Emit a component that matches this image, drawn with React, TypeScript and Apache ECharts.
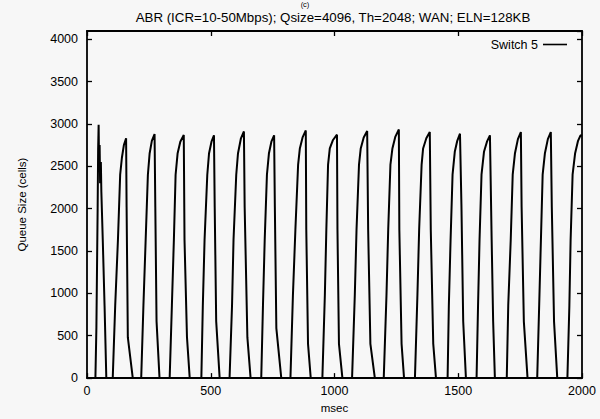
import React, { useEffect, useRef } from "react";
import * as echarts from "echarts";

// Time axis ticks (msec) and queue axis ticks (cells)
const xTicks = [0, 500, 1000, 1500, 2000];
const yTicks = [0, 500, 1000, 1500, 2000, 2500, 3000, 3500, 4000];

// Switch 5 queue size trace as [msec, cells]
const start: [number, number][] = [[0, 0]];
const cycle01: [number, number][] = [[34, 0], [38, 600], [41, 1450], [43, 2000], [45, 2700], [47, 2990], [49, 2450], [51, 2750], [53, 2300], [56, 2550], [58, 2200], [64, 1600], [71, 850], [78, 0]];
const cycle02: [number, number][] = [[104, 0], [114, 860], [125, 1630], [134, 2400], [141, 2600], [149, 2750], [158, 2830], [160, 2020], [165, 480], [185, 0]];
const cycle03: [number, number][] = [[219, 0], [228, 860], [237, 1630], [246, 2400], [253, 2650], [262, 2800], [273, 2880], [276, 2020], [281, 670], [293, 0]];
const cycle04: [number, number][] = [[334, 0], [343, 860], [351, 1630], [358, 2400], [366, 2650], [377, 2790], [391, 2870], [394, 1630], [404, 480], [415, 0]];
const cycle05: [number, number][] = [[462, 0], [468, 860], [475, 1630], [486, 2400], [493, 2650], [503, 2790], [513, 2865], [516, 2020], [522, 670], [536, 0]];
const cycle06: [number, number][] = [[576, 0], [586, 860], [592, 1630], [603, 2400], [610, 2650], [622, 2830], [634, 2910], [637, 2020], [648, 480], [661, 0]];
const cycle07: [number, number][] = [[704, 0], [711, 860], [718, 1630], [727, 2400], [735, 2650], [745, 2790], [756, 2865], [759, 2020], [765, 590], [785, 0]];
const cycle08: [number, number][] = [[822, 0], [832, 977], [842, 1750], [853, 2520], [860, 2710], [871, 2840], [884, 2923], [886, 1750], [893, 404], [904, 0]];
const cycle09: [number, number][] = [[951, 0], [961, 977], [967, 1750], [974, 2520], [981, 2710], [994, 2810], [1010, 2873], [1012, 1750], [1018, 404], [1032, 0]];
const cycle10: [number, number][] = [[1071, 0], [1082, 977], [1089, 1750], [1099, 2520], [1106, 2710], [1118, 2840], [1132, 2915], [1136, 1750], [1145, 404], [1163, 0]];
const cycle11: [number, number][] = [[1199, 0], [1210, 977], [1217, 1750], [1226, 2520], [1234, 2710], [1246, 2850], [1260, 2934], [1262, 1750], [1271, 404], [1281, 0]];
const cycle12: [number, number][] = [[1325, 0], [1335, 977], [1342, 1750], [1352, 2520], [1358, 2710], [1371, 2830], [1385, 2904], [1389, 1750], [1399, 404], [1410, 0]];
const cycle13: [number, number][] = [[1457, 0], [1462, 860], [1469, 1630], [1477, 2400], [1486, 2670], [1496, 2800], [1507, 2884], [1513, 2020], [1520, 670], [1531, 0]];
const cycle14: [number, number][] = [[1574, 0], [1580, 860], [1586, 1630], [1594, 2400], [1604, 2670], [1616, 2790], [1628, 2865], [1635, 1630], [1641, 670], [1648, 0]];
const cycle15: [number, number][] = [[1696, 0], [1702, 860], [1712, 1630], [1720, 2400], [1729, 2650], [1741, 2820], [1753, 2904], [1756, 2020], [1765, 670], [1780, 0]];
const cycle16: [number, number][] = [[1819, 0], [1827, 860], [1834, 1630], [1841, 2400], [1850, 2650], [1862, 2820], [1874, 2904], [1878, 2020], [1887, 670], [1900, 0]];
const cycle17: [number, number][] = [[1941, 0], [1949, 860], [1954, 1630], [1962, 2400], [1972, 2650], [1984, 2800], [1994, 2865], [2000, 2860]];

const seriesName = "Switch 5";
const titleText = "ABR (ICR=10-50Mbps); Qsize=4096, Th=2048; WAN; ELN=128KB";
const panelText = "(c)";
const xName = "msec";
const yName = "Queue Size (cells)";

const FONT = "'Liberation Sans', Arial, Helvetica, sans-serif";
const INK = "#000";

export default function App() {
  const ref = useRef<HTMLDivElement>(null);

  useEffect(() => {
    if (!ref.current) return;
    const chart = echarts.init(ref.current, undefined, { renderer: "svg" });
    const data = [
      ...start, ...cycle01, ...cycle02, ...cycle03, ...cycle04, ...cycle05, ...cycle06,
      ...cycle07, ...cycle08, ...cycle09, ...cycle10, ...cycle11, ...cycle12,
      ...cycle13, ...cycle14, ...cycle15, ...cycle16, ...cycle17,
    ];
    const xMin = xTicks[0];
    const xMax = xTicks[xTicks.length - 1];
    const xStep = xTicks[1] - xTicks[0];
    const yStep = yTicks[1] - yTicks[0];
    const yTop = 4096;
    const axisLine = { show: true, onZero: false, lineStyle: { color: "#000", width: 1.8 } };
    const tick = { show: true, inside: true, length: 5, lineStyle: { color: "#000", width: 1.3 } };

    chart.setOption({
      animation: false,
      backgroundColor: "#f7f7f7",
      grid: { left: 87, right: 18, top: 31, bottom: 35, containLabel: false },
      graphic: [
        {
          type: "text",
          x: 333,
          y: 17,
          style: {
            text: titleText,
            align: "center",
            verticalAlign: "middle",
            font: `13.3px ${FONT}`,
            fill: INK,
          },
        },
        {
          type: "text",
          x: 305,
          y: 0,
          style: {
            text: panelText,
            align: "center",
            verticalAlign: "top",
            font: `7.5px ${FONT}`,
            fill: INK,
          },
        },
      ],
      legend: {
        data: [seriesName],
        top: 33,
        right: 28,
        align: "right",
        icon: "rect",
        itemWidth: 24,
        itemHeight: 1.6,
        textStyle: { fontFamily: FONT, fontSize: 12.5, color: INK },
      },
      xAxis: [
        {
          type: "value",
          min: xMin,
          max: xMax,
          interval: xStep,
          position: "bottom",
          axisLine,
          axisTick: tick,
          splitLine: { show: false },
          axisLabel: {
            margin: 6,
            fontFamily: FONT,
            fontSize: 12.5,
            color: INK,
            formatter: (v: number) => String(v),
          },
          name: xName,
          nameLocation: "middle",
          nameGap: 21,
          nameTextStyle: { fontFamily: FONT, fontSize: 11.5, color: INK },
        },
        {
          type: "value",
          min: xMin,
          max: xMax,
          interval: xStep,
          position: "top",
          axisLine,
          axisTick: tick,
          splitLine: { show: false },
          axisLabel: { show: false },
        },
      ],
      yAxis: [
        {
          type: "value",
          min: 0,
          max: yTop,
          interval: yStep,
          position: "left",
          axisLine,
          axisTick: tick,
          splitLine: { show: false },
          axisLabel: {
            margin: 9,
            fontFamily: FONT,
            fontSize: 12.5,
            color: INK,
            showMaxLabel: false,
            formatter: (v: number) => (yTicks.includes(v) ? String(v) : ""),
          },
          name: yName,
          nameLocation: "middle",
          nameRotate: 90,
          nameGap: 59,
          nameTextStyle: { fontFamily: FONT, fontSize: 11.5, color: INK },
        },
        {
          type: "value",
          min: 0,
          max: yTop,
          interval: yStep,
          position: "right",
          axisLine,
          axisTick: tick,
          splitLine: { show: false },
          axisLabel: { show: false },
        },
      ],
      series: [
        {
          name: seriesName,
          type: "line",
          xAxisIndex: 0,
          yAxisIndex: 0,
          data,
          symbol: "none",
          showSymbol: false,
          lineStyle: { color: "#000", width: 2 },
          itemStyle: { color: "#000" },
        },
      ],
    });

    return () => chart.dispose();
  }, []);

  return (
    <div
      ref={ref}
      style={{ position: "fixed", left: 0, top: 0, width: 600, height: 419 }}
    />
  );
}
